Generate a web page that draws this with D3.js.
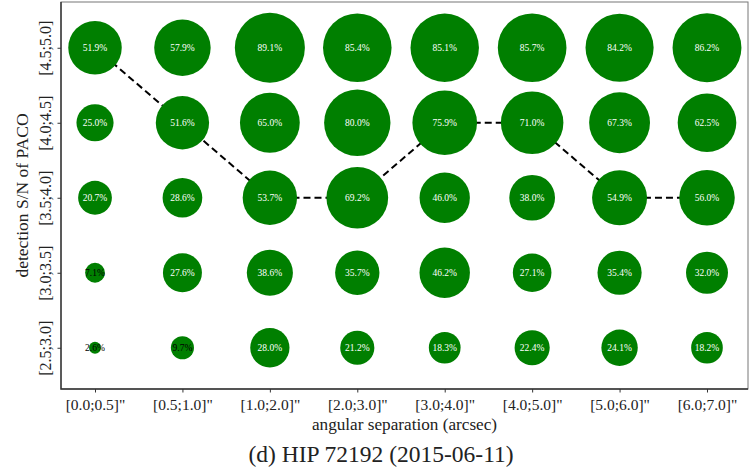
<!DOCTYPE html>
<html><head><meta charset="utf-8">
<script src="https://cdn.jsdelivr.net/npm/d3@7"></script>
<style>body{margin:0;background:#fff}svg{display:block}</style>
</head><body>
<script>
const sepLabels = ['[0.0;0.5]"','[0.5;1.0]"','[1.0;2.0]"','[2.0;3.0]"','[3.0;4.0]"','[4.0;5.0]"','[5.0;6.0]"','[6.0;7.0]"'];
const snrLabels = ['[2.5;3.0]','[3.0;3.5]','[3.5;4.0]','[4.0;4.5]','[4.5;5.0]'];
// detection rates (%) per S/N row (bottom to top), per separation column
const row25 = [2.6, 9.7, 28.0, 21.2, 18.3, 22.4, 24.1, 18.2];
const row30 = [7.1, 27.6, 38.6, 35.7, 46.2, 27.1, 35.4, 32.0];
const row35 = [20.7, 28.6, 53.7, 69.2, 46.0, 38.0, 54.9, 56.0];
const row40 = [25.0, 51.6, 65.0, 80.0, 75.9, 71.0, 67.3, 62.5];
const row45 = [51.9, 57.9, 89.1, 85.4, 85.1, 85.7, 84.2, 86.2];
const rows = [row25, row30, row35, row40, row45];
// S/N row index of the 50% boundary line, per column
const boundaryRow = [4, 3, 2, 2, 3, 3, 2, 2];

const W = 756, H = 473;
const svg = d3.select('body').append('svg').attr('width', W).attr('height', H);
const L = 61, R = 748, T = 2, B = 389;
const x = d3.scaleLinear().domain([-0.389, 7.469]).range([L, R]);
const y = d3.scaleLinear().domain([-0.55, 4.61]).range([B, T]);
const r = d3.scaleSqrt().domain([0, 100]).range([0, 37.1]);
const font = "'Liberation Serif', 'Times New Roman', serif";

// boundary line (behind circles)
svg.append('path')
  .datum(boundaryRow)
  .attr('d', d3.line().x((d,i)=>x(i)).y(d=>y(d)))
  .attr('fill','none').attr('stroke','#000').attr('stroke-width',2)
  .attr('stroke-dasharray','7,4');

const cells = [];
rows.forEach((row, j) => row.forEach((v, i) => cells.push({i, j, v})));

svg.append('g').selectAll('circle').data(cells).join('circle')
  .attr('cx', d=>x(d.i)).attr('cy', d=>y(d.j)).attr('r', d=>r(d.v))
  .attr('fill', '#007f00');

svg.append('g').selectAll('text').data(cells).join('text')
  .attr('x', d=>x(d.i)).attr('y', d=>y(d.j)).attr('dy','0.35em')
  .attr('text-anchor','middle').attr('font-family', font).attr('font-size', 9.5)
  .attr('fill', d=> d.v < 10 ? '#000' : '#fff')
  .text(d=>d.v.toFixed(1) + '%');

// frame
svg.append('rect').attr('x',L).attr('y',T).attr('width',R-L).attr('height',B-T)
  .attr('fill','none').attr('stroke','#777').attr('stroke-width',1);
svg.append('path').attr('d',`M${L},${T}V${B}H${R}`).attr('fill','none')
  .attr('stroke','#333').attr('stroke-width',1.4);

// x axis
const xa = svg.append('g').attr('transform',`translate(0,${B})`)
  .call(d3.axisBottom(x).tickValues(d3.range(sepLabels.length)).tickFormat(i=>sepLabels[i]).tickSize(3.5).tickPadding(6));
xa.select('.domain').remove();
xa.selectAll('line').attr('stroke','#333');
xa.selectAll('text').attr('font-family',font).attr('font-size',15.5).attr('fill','#222');

// y axis
const ya = svg.append('g').attr('transform',`translate(${L},0)`)
  .call(d3.axisLeft(y).tickValues(d3.range(snrLabels.length)).tickFormat(i=>snrLabels[i]).tickSize(3.5).tickPadding(0));
ya.select('.domain').remove();
ya.selectAll('line').attr('stroke','#333');
ya.selectAll('text').attr('font-family',font).attr('font-size',16).attr('fill','#222')
  .attr('text-anchor','middle').attr('x',0).attr('dy',0)
  .attr('transform','translate(-10,0) rotate(-90)');

svg.append('text').attr('x',(L+R)/2).attr('y',430).attr('text-anchor','middle')
  .attr('font-family',font).attr('font-size',17.2).attr('fill','#222')
  .text('angular separation (arcsec)');
svg.append('text').attr('transform',`translate(28,${(T+B)/2}) rotate(-90)`).attr('text-anchor','middle')
  .attr('font-family',font).attr('font-size',17.5).attr('fill','#222')
  .text('detection S/N of PACO');
svg.append('text').attr('x',381).attr('y',462).attr('text-anchor','middle')
  .attr('font-family',font).attr('font-size',23.5).attr('fill','#222')
  .text('(d) HIP 72192 (2015-06-11)');
</script>
</body></html>
